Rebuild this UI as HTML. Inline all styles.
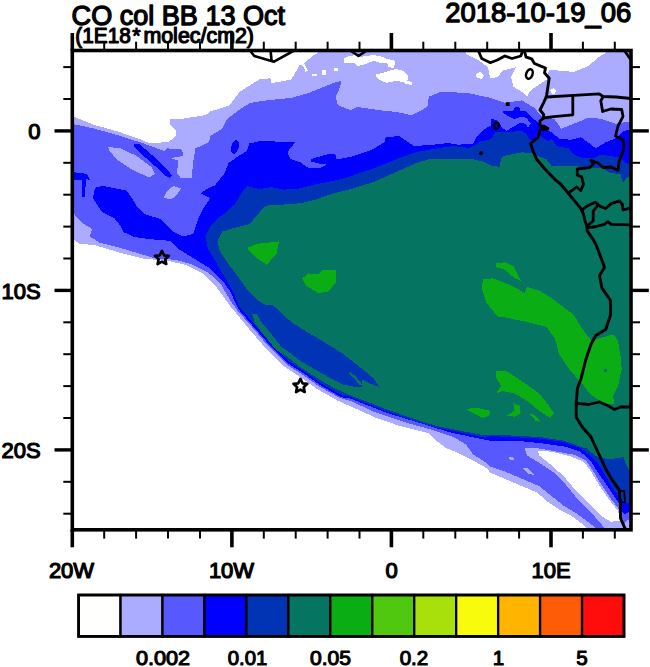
<!DOCTYPE html>
<html><head><meta charset="utf-8"><title>CO col BB 13 Oct</title>
<style>
html,body{margin:0;padding:0;background:#fff;}
body{width:650px;height:667px;overflow:hidden;font-family:"Liberation Sans",sans-serif;}
svg{display:block;}
text{font-family:"Liberation Sans",sans-serif;fill:#000;}
</style></head><body>
<svg width="650" height="667" viewBox="0 0 650 667">
<rect x="0" y="0" width="650" height="667" fill="#ffffff"/>
<defs><clipPath id="mapclip"><rect x="72.3" y="50.5" width="558.7" height="479.3"/></clipPath></defs>
<g clip-path="url(#mapclip)">
<g shape-rendering="crispEdges">
<polygon points="72.0,116.0 74.4,116.9 94.6,125.0 116.8,131.2 141.4,139.8 148.8,143.0 168.5,142.2 175.8,136.0 175.8,130.0 169.7,123.8 169.7,118.8 178.3,119.3 205.4,115.2 210.3,111.5 229.7,105.3 239.5,91.8 259.2,79.5 270.3,78.2 271.5,83.2 291.2,79.5 297.0,70.0 300.0,64.5 303.0,66.0 305.5,71.5 308.0,71.0 304.0,63.0 308.5,59.5 313.4,55.0 318.0,53.2 320.0,48.0 640.0,48.0 640.0,540.0 586.0,540.0 586.0,528.0 581.0,523.0 571.2,515.7 559.0,509.5 546.6,501.0 536.8,492.3 522.0,486.2 504.8,478.8 490.0,472.6 487.8,469.0 473.0,460.3 458.3,453.0 446.0,448.0 436.2,440.6 428.8,433.2 399.2,425.8 374.6,417.2 357.7,409.5 338.0,400.8 318.3,389.8 301.0,377.5 283.8,366.4 266.6,349.2 249.4,329.5 236.0,313.0 230.0,306.0 222.6,295.5 215.2,285.7 203.0,273.4 185.7,264.8 168.5,261.0 143.8,258.6 119.2,252.5 94.6,245.0 79.8,243.8 74.4,240.2 60.0,240.0 60.0,116.0" fill="#ababff"/>
<polygon points="343.4,58.8 349.0,56.2 355.4,55.2 361.0,57.0 367.0,55.8 373.8,55.2 381.0,56.5 386.8,58.8 395.0,60.7 394.2,68.0 388.6,67.2 387.0,63.0 381.2,63.5 373.8,60.7 364.6,64.4 357.2,66.2 354.5,62.5 344.3,63.5" fill="#ffffff"/>
<polygon points="375.7,74.5 383.0,72.7 388.6,70.8 396.0,69.0 403.4,70.8 408.0,75.5 407.5,80.5 412.6,83.0 412.0,85.0 406.0,84.0 403.4,82.0 396.0,81.0 386.8,82.8 379.4,80.0 376.6,77.3" fill="#ffffff"/>
<polygon points="312.0,73.5 316.5,73.5 316.5,75.5 312.0,75.5" fill="#ffffff"/>
<polygon points="321.5,70.0 325.5,70.0 325.5,75.0 321.5,75.0" fill="#ffffff"/>
<polygon points="334.0,68.0 338.0,68.0 338.0,70.8 334.0,70.8" fill="#ffffff"/>
<polygon points="475.5,74.0 480.0,72.0 484.0,75.0 482.0,79.0 477.0,78.0" fill="#ffffff"/>
<polygon points="465.7,48.0 465.7,53.6 478.0,59.8 487.8,67.2 490.3,78.2 497.7,77.0 502.3,70.8 515.8,67.2 511.0,77.0 513.4,86.8 522.0,91.8 527.0,96.7 530.6,90.5 539.2,84.4 546.6,79.5 549.0,69.6 573.7,72.0 588.5,66.0 598.3,57.3 605.7,52.9 606.0,48.0" fill="#ffffff"/>
<polygon points="550.3,90.0 554.0,88.0 556.5,91.0 554.0,94.2 551.0,93.0" fill="#ffffff"/>
<polygon points="60.0,124.0 74.4,124.3 94.6,128.7 119.2,135.6 143.8,143.5 164.8,151.3 167.2,148.4 182.0,149.6 183.2,155.8 171.0,158.2 178.3,160.7 177.0,173.0 180.8,178.0 191.8,178.0 193.0,163.0 195.5,148.4 209.0,142.2 210.3,136.0 222.3,128.7 227.2,118.8 242.0,107.8 250.6,102.8 266.6,100.4 291.2,97.9 308.5,93.0 333.0,83.2 341.7,80.7 339.2,89.3 335.5,96.7 338.0,105.3 350.3,110.2 357.4,107.0 379.5,110.2 396.8,112.0 411.5,115.2 421.4,110.2 427.5,106.5 428.8,96.7 441.0,91.8 468.2,93.0 490.3,97.9 504.8,102.8 522.0,100.4 534.3,107.8 541.7,116.4 554.0,118.8 561.4,128.7 573.7,123.8 588.5,117.6 600.8,118.8 615.5,123.8 623.0,122.5 640.0,120.0 640.0,516.5 630.0,518.5 625.0,522.0 624.0,540.0 596.0,540.0 596.0,528.0 586.0,520.6 576.2,513.2 563.8,505.8 551.5,496.0 539.2,486.2 522.0,478.8 504.8,471.4 490.0,466.5 487.8,464.0 473.0,454.2 465.7,444.3 453.4,437.0 431.2,429.5 411.5,424.2 374.6,412.0 350.0,400.8 340.0,398.0 320.0,387.0 303.0,375.0 286.0,364.0 269.0,347.0 252.0,327.0 237.0,310.0 230.0,300.0 220.2,283.2 207.8,272.2 193.0,264.8 175.8,259.8 156.2,258.6 143.8,255.0 119.2,247.5 99.5,242.6 89.7,236.5 92.2,229.0 82.3,223.0 74.4,214.3 60.0,214.0" fill="#5858ff"/>
<polygon points="108.2,147.2 119.2,147.9 136.5,155.8 151.2,166.8 155.0,174.2 148.8,177.4 131.5,169.3 116.8,159.5 109.4,150.8" fill="#ababff"/>
<polygon points="163.5,197.6 167.0,191.0 173.4,185.8 180.8,188.3 177.0,195.0 171.0,199.6" fill="#ababff"/>
<polygon points="524.5,448.0 539.2,448.5 573.7,454.6 586.0,460.3 593.4,471.4 600.8,483.7 610.6,498.5 619.2,509.5 623.0,520.6 624.2,540.0 604.5,540.0 604.5,528.0 598.3,520.6 587.2,508.3 575.0,496.0 565.0,483.7 554.0,472.6 539.2,462.8 527.0,455.4" fill="#ababff"/>
<polygon points="538.0,450.5 551.5,451.7 571.2,456.6 583.5,461.5 591.0,471.4 598.3,483.7 608.2,498.5 618.0,510.8 620.5,520.6 610.6,521.8 600.8,515.7 588.5,503.4 576.2,491.0 563.8,476.3 551.5,465.2 539.2,455.4" fill="#ffffff"/>
<polygon points="508.5,457.0 513.0,457.0 514.6,460.0 510.0,460.5" fill="#ababff"/>
<polygon points="522.0,467.7 527.0,468.0 534.3,475.0 529.0,474.0" fill="#ababff"/>
<polygon points="93.0,198.5 94.0,191.0 96.2,187.0 103.0,186.0 116.2,188.5 127.0,190.8 133.0,200.0 137.7,207.7 143.8,213.8 161.0,219.2 173.4,231.5 183.2,236.5 193.0,234.0 198.0,219.2 204.2,207.0 210.3,198.3 200.5,193.4 207.8,188.5 215.0,185.3 224.8,173.0 228.5,163.2 237.0,157.0 247.0,150.8 249.4,143.5 263.0,140.5 283.8,142.2 295.4,142.3 290.0,148.5 287.7,153.0 290.8,159.2 300.8,162.3 305.4,166.2 310.8,168.5 320.8,167.7 327.0,164.6 320.8,163.8 310.8,161.5 310.8,159.2 320.8,156.2 329.2,153.8 335.4,154.6 336.2,159.2 339.2,159.2 353.0,156.2 372.2,149.6 384.5,142.2 385.7,137.3 399.2,136.0 414.0,146.0 433.7,144.7 448.5,143.0 458.3,144.7 473.0,143.5 476.9,136.2 483.1,130.0 490.8,125.4 491.5,119.2 496.9,120.0 501.5,126.9 506.2,130.8 520.0,123.1 526.2,123.8 527.7,127.7 530.8,123.8 526.2,117.7 521.5,116.9 513.8,119.2 503.1,113.1 502.3,110.8 512.3,111.5 515.4,106.9 519.2,106.9 520.0,110.8 526.2,111.5 532.3,117.7 538.5,123.1 543.0,127.5 551.5,132.4 559.0,138.5 571.2,139.8 581.0,137.3 589.7,143.5 595.8,148.4 605.7,142.2 615.5,138.5 623.0,131.2 640.0,127.5 640.0,509.5 630.0,511.5 624.5,514.5 622.5,512.0 618.0,502.0 608.0,487.0 598.0,472.5 590.0,460.0 580.0,451.5 564.5,446.5 539.2,443.0 514.6,440.6 490.0,440.6 483.0,439.4 465.7,435.7 448.5,432.0 423.8,424.2 387.0,413.0 350.0,398.4 341.5,397.3 321.8,386.3 304.5,374.0 287.3,362.9 270.1,345.7 252.9,326.0 238.1,308.7 230.0,291.0 222.6,280.8 210.3,268.5 198.0,261.0 178.3,248.8 170.0,240.8 150.0,239.2 134.6,237.0 123.8,232.3 120.8,226.2 114.6,218.5 102.3,212.3" fill="#0000ff"/>
<polygon points="60.0,172.3 73.8,172.3 87.0,173.8 90.0,180.0 85.8,179.0 85.2,197.0 82.0,197.0 81.5,180.0 79.0,179.5 73.8,180.5 60.0,180.5" fill="#0000ff"/>
<polygon points="134.2,144.4 139.4,144.4 148.5,152.0 159.2,161.3 167.0,169.0 172.0,175.6 170.0,178.0 165.4,175.6 159.0,169.4 150.0,161.7 140.8,153.2 134.4,147.2" fill="#0000ff"/>
<ellipse cx="235" cy="147" rx="3.6" ry="7" fill="#0000ff" transform="rotate(15 235 147)"/>
<polygon points="223.8,214.3 234.6,204.5 242.0,192.2 247.0,186.0 259.2,189.0 271.5,187.2 283.8,189.7 298.6,188.5 313.4,184.8 333.0,181.0 347.8,177.4 357.7,173.5 374.6,168.0 399.2,158.2 416.5,152.0 436.2,148.4 453.4,146.0 469.2,148.0 475.4,144.6 480.0,141.5 490.8,139.2 495.4,132.3 506.2,132.3 521.5,130.8 526.2,133.8 529.2,139.2 533.8,140.8 540.0,136.2 547.7,140.8 552.3,139.2 556.5,146.0 568.8,148.4 573.7,154.5 581.0,157.7 594.6,157.7 600.8,154.6 611.5,156.2 620.8,157.7 625.4,163.0 640.0,164.0 640.0,503.4 624.2,503.4 620.5,498.5 613.0,488.6 605.7,476.3 598.3,464.0 591.0,456.5 581.0,448.3 563.8,442.1 539.2,438.5 514.6,437.2 490.0,436.0 485.4,437.8 460.8,432.5 436.2,427.5 411.5,420.0 387.0,411.5 364.8,402.8 350.0,396.7 343.0,395.8 323.3,384.8 306.0,372.5 288.8,361.4 271.6,344.2 254.4,324.5 239.6,307.2 232.2,290.0 222.3,273.4 212.5,256.2 207.8,248.8 205.4,236.5 210.3,226.6 219.8,216.8" fill="#0034b4"/>
<polygon points="217.4,241.4 222.3,231.5 234.6,227.8 249.4,224.2 256.8,215.5 265.4,205.7 283.8,204.5 301.0,203.2 315.8,199.5 333.0,193.4 352.8,188.5 374.6,181.6 399.2,170.5 419.0,162.0 431.2,158.7 460.8,159.5 472.3,159.2 483.1,161.5 491.0,165.5 500.0,166.9 500.8,159.2 503.8,155.8 510.8,154.6 521.5,152.3 532.3,153.1 539.2,156.5 546.6,159.5 551.5,165.6 571.2,165.6 588.5,168.0 600.8,168.0 610.6,173.0 620.5,174.2 623.0,182.8 626.6,178.0 640.0,168.0 640.0,472.0 629.2,470.0 625.4,463.0 623.8,457.0 611.5,459.2 600.8,458.0 594.6,455.4 587.5,448.8 581.0,446.8 563.8,440.6 539.2,437.0 514.6,435.7 490.0,434.5 485.4,435.5 460.8,430.8 436.2,426.0 411.5,418.0 387.0,409.5 364.8,400.8 346.2,393.8 330.8,386.2 320.0,380.0 309.2,373.0 300.0,367.0 287.0,356.5 276.2,350.0 272.3,345.4 266.2,337.7 260.0,330.0 254.6,322.3 253.0,315.4 252.0,314.0 252.0,295.0 246.2,288.5 240.0,279.2 233.0,270.0 229.7,266.0 219.8,251.2" fill="#057460"/>
<polygon points="247.0,293.0 253.0,295.4 258.5,300.8 266.2,305.4 272.3,304.6 278.5,310.0 286.2,317.7 293.8,323.8 306.2,331.5 320.8,340.0 330.8,346.2 343.0,353.8 353.8,362.3 364.6,370.8 373.8,378.5 379.2,387.0 370.0,383.5 362.0,379.5 361.5,387.0 355.4,387.0 343.0,384.6 330.8,378.5 320.0,372.3 309.2,366.2 300.0,360.8 286.2,350.0 281.5,347.0 275.4,339.2 269.2,331.5 261.5,322.3 257.0,314.6 253.0,313.8 247.0,312.5" fill="#0034b4"/>
<polygon points="348.5,373.0 350.2,372.2 355.5,376.0 362.5,384.8 360.0,385.2 353.0,377.8" fill="#057460"/>
<polygon points="248.2,247.5 256.8,243.8 279.0,241.4 276.5,253.7 266.6,264.8 255.5,257.4 248.2,250.0" fill="#0aae14"/>
<polygon points="302.3,278.3 308.5,273.4 318.3,274.6 323.2,269.7 336.0,269.7 336.0,282.0 328.2,291.8 318.3,293.0 306.0,285.7" fill="#0aae14"/>
<polygon points="496.2,263.5 504.8,262.3 513.4,266.0 520.8,280.8 514.6,278.3 504.8,269.7 496.2,267.2" fill="#0aae14"/>
<polygon points="483.0,279.5 492.8,278.3 499.8,280.8 514.6,287.0 524.5,293.0 527.0,287.0 539.2,290.6 551.5,298.0 563.8,307.3 573.7,314.7 581.0,327.0 588.5,336.8 592.2,341.8 595.8,339.3 613.0,334.4 618.0,340.5 620.5,356.5 621.7,368.8 618.0,386.0 613.0,396.0 614.3,404.5 605.7,403.3 595.8,398.4 588.5,392.2 582.3,383.6 577.4,378.7 568.8,368.8 559.0,354.0 555.2,339.3 546.6,327.0 527.0,322.0 504.8,317.2 497.7,316.5 486.6,303.0 481.7,288.2" fill="#0aae14"/>
<polygon points="603.5,369.0 606.5,368.5 607.0,372.0 604.0,372.5" fill="#057460"/>
<polygon points="496.2,371.3 507.2,371.3 522.0,381.2 539.2,393.5 549.0,405.8 554.0,413.2 550.3,418.0 539.2,410.7 527.0,400.8 514.6,393.5 502.3,391.0 496.2,393.5 501.0,386.0 496.2,377.5" fill="#0aae14"/>
<polygon points="513.4,403.3 519.5,405.8 520.8,413.2 514.6,416.8 507.2,415.6 514.6,410.7" fill="#0aae14"/>
<polygon points="529.4,413.2 535.5,415.6 540.5,421.8 535.5,420.5" fill="#0aae14"/>
<polygon points="465.2,408.7 478.0,408.2 490.3,410.7 489.0,415.6 483.0,418.0 475.5,414.4" fill="#0aae14"/>
</g>
<polyline points="249.4,50.0 254.3,56.0 274.0,61.7 295.0,50.0" fill="none" stroke="#000" stroke-width="2.6" stroke-linejoin="round" stroke-linecap="round"/>
<polyline points="270.5,50.0 271.5,60.0" fill="none" stroke="#000" stroke-width="2.6" stroke-linejoin="round" stroke-linecap="round"/>
<polyline points="351.0,51.0 358.5,56.0 366.0,51.0" fill="none" stroke="#000" stroke-width="2.6" stroke-linejoin="round" stroke-linecap="round"/>
<polyline points="478.0,50.0 481.7,58.5 490.3,62.7 497.4,60.0 504.8,56.0 512.0,58.5 520.8,56.0 523.0,50.0" fill="none" stroke="#000" stroke-width="2.8" stroke-linejoin="round" stroke-linecap="round"/>
<polyline points="524.2,50.0 526.0,57.0 531.6,58.8 534.4,63.5 540.8,66.2 545.5,68.0 544.5,72.7 549.2,78.2 547.8,87.5 546.5,96.2 543.8,102.3 540.0,110.0 543.8,114.6 543.0,118.5 540.0,120.8 540.0,126.0 547.8,128.7 540.3,129.6 538.0,137.3 530.6,143.5 533.0,150.8 536.8,159.5 544.0,168.0 555.2,179.8 560.0,183.5 568.3,193.2 575.2,201.6 580.8,208.5 583.5,214.0 585.0,221.0 587.0,226.5 587.0,230.6 591.9,237.6 596.0,244.5 599.5,253.7 604.5,267.2 599.5,275.8 602.0,288.2 610.6,300.5 610.6,314.7 605.7,329.5 595.8,335.6 591.0,344.2 586.0,359.0 581.0,378.7 577.4,388.5 576.2,403.3 576.2,417.2 582.3,427.0 591.0,437.0 598.3,453.0 605.7,469.0 613.0,481.2 619.2,489.8 620.5,503.4 620.5,518.2 624.2,526.8 626.6,531.0" fill="none" stroke="#000" stroke-width="2.9" stroke-linejoin="round" stroke-linecap="round"/>
<polygon points="540.5,125.0 544.0,124.5 549.0,127.5 548.5,130.5 541.0,130.0" fill="#000"/>
<polyline points="547.0,97.0 573.8,95.4 599.2,93.8 603.0,96.5 616.0,97.0 632.0,98.6" fill="none" stroke="#000" stroke-width="2.8" stroke-linejoin="round" stroke-linecap="round"/>
<polyline points="572.8,95.5 572.8,114.8 553.8,116.6 543.5,118.0" fill="none" stroke="#000" stroke-width="2.8" stroke-linejoin="round" stroke-linecap="round"/>
<polyline points="603.0,97.0 600.8,100.8 602.6,111.5 610.6,109.0 621.7,109.5 623.0,116.4 618.0,126.2 615.5,136.0 623.0,139.8 624.0,145.4 623.0,152.0 619.2,160.7 618.0,170.5 611.2,167.0 603.2,167.5 598.3,163.2 591.0,160.2 593.2,164.2 589.8,167.6 577.3,169.0 577.3,175.2 581.5,176.6 583.5,184.2 580.8,190.5 576.6,187.0 568.3,193.2" fill="none" stroke="#000" stroke-width="2.8" stroke-linejoin="round" stroke-linecap="round"/>
<polyline points="582.2,209.9 587.7,205.7 595.3,202.2 600.2,206.4 605.7,208.5 611.2,203.6 619.6,200.9 622.3,204.3 623.0,209.9 626.5,209.2 632.0,206.5" fill="none" stroke="#000" stroke-width="2.8" stroke-linejoin="round" stroke-linecap="round"/>
<polyline points="598.0,205.0 593.2,211.2 593.2,221.0 589.0,224.4 587.5,226.0" fill="none" stroke="#000" stroke-width="2.8" stroke-linejoin="round" stroke-linecap="round"/>
<polyline points="587.0,227.9 596.0,226.5 604.3,224.4 607.8,221.6 611.2,224.4 632.0,225.0" fill="none" stroke="#000" stroke-width="2.8" stroke-linejoin="round" stroke-linecap="round"/>
<polyline points="576.2,403.3 588.5,404.5 599.5,402.0 608.2,405.8 614.3,409.5 620.5,407.0 632.0,407.0" fill="none" stroke="#000" stroke-width="2.8" stroke-linejoin="round" stroke-linecap="round"/>
<polyline points="620.5,491.0 624.2,491.0 625.0,502.2 620.5,502.2" fill="none" stroke="#000" stroke-width="1.8" stroke-linejoin="round" stroke-linecap="round"/>
<polyline points="624.0,50.0 631.0,60.0" fill="none" stroke="#000" stroke-width="2.8" stroke-linejoin="round" stroke-linecap="round"/>
<ellipse cx="529.4" cy="74" rx="3.1" ry="4.9" fill="none" stroke="#000" stroke-width="2.5" transform="rotate(20 529.4 74)"/>
<ellipse cx="496.4" cy="125.7" rx="2.4" ry="3.1" fill="none" stroke="#000" stroke-width="2.6" transform="rotate(25 496.4 125.7)"/>
<rect x="505.8" y="102.2" width="3.8" height="3.8" fill="#000"/>
<circle cx="481" cy="153.3" r="2" fill="#000"/>
</g>
<polygon points="161.9,250.8 164.0,255.3 168.8,255.8 165.2,259.2 166.2,264.0 161.9,261.6 157.6,264.0 158.6,259.2 155.0,255.8 159.8,255.3" fill="none" stroke="#000" stroke-width="2.7" stroke-linejoin="round"/>
<polygon points="300.4,378.8 302.5,383.3 307.3,383.8 303.7,387.2 304.7,392.0 300.4,389.6 296.1,392.0 297.1,387.2 293.5,383.8 298.3,383.3" fill="none" stroke="#000" stroke-width="2.7" stroke-linejoin="round"/>
<rect x="72.3" y="50.5" width="558.7" height="479.3" fill="none" stroke="#000" stroke-width="3.6"/>
<line x1="72.3" y1="529.8" x2="72.3" y2="547.3" stroke="#000" stroke-width="3.6"/>
<line x1="72.3" y1="50.5" x2="72.3" y2="33.0" stroke="#000" stroke-width="3.6"/>
<line x1="104.2" y1="529.8" x2="104.2" y2="538.6" stroke="#000" stroke-width="2.0"/>
<line x1="104.2" y1="50.5" x2="104.2" y2="41.7" stroke="#000" stroke-width="2.0"/>
<line x1="136.1" y1="529.8" x2="136.1" y2="538.6" stroke="#000" stroke-width="2.0"/>
<line x1="136.1" y1="50.5" x2="136.1" y2="41.7" stroke="#000" stroke-width="2.0"/>
<line x1="168.0" y1="529.8" x2="168.0" y2="538.6" stroke="#000" stroke-width="2.0"/>
<line x1="168.0" y1="50.5" x2="168.0" y2="41.7" stroke="#000" stroke-width="2.0"/>
<line x1="200.0" y1="529.8" x2="200.0" y2="538.6" stroke="#000" stroke-width="2.0"/>
<line x1="200.0" y1="50.5" x2="200.0" y2="41.7" stroke="#000" stroke-width="2.0"/>
<line x1="231.9" y1="529.8" x2="231.9" y2="547.3" stroke="#000" stroke-width="3.6"/>
<line x1="231.9" y1="50.5" x2="231.9" y2="33.0" stroke="#000" stroke-width="3.6"/>
<line x1="263.8" y1="529.8" x2="263.8" y2="538.6" stroke="#000" stroke-width="2.0"/>
<line x1="263.8" y1="50.5" x2="263.8" y2="41.7" stroke="#000" stroke-width="2.0"/>
<line x1="295.7" y1="529.8" x2="295.7" y2="538.6" stroke="#000" stroke-width="2.0"/>
<line x1="295.7" y1="50.5" x2="295.7" y2="41.7" stroke="#000" stroke-width="2.0"/>
<line x1="327.6" y1="529.8" x2="327.6" y2="538.6" stroke="#000" stroke-width="2.0"/>
<line x1="327.6" y1="50.5" x2="327.6" y2="41.7" stroke="#000" stroke-width="2.0"/>
<line x1="359.5" y1="529.8" x2="359.5" y2="538.6" stroke="#000" stroke-width="2.0"/>
<line x1="359.5" y1="50.5" x2="359.5" y2="41.7" stroke="#000" stroke-width="2.0"/>
<line x1="391.4" y1="529.8" x2="391.4" y2="547.3" stroke="#000" stroke-width="3.6"/>
<line x1="391.4" y1="50.5" x2="391.4" y2="33.0" stroke="#000" stroke-width="3.6"/>
<line x1="423.3" y1="529.8" x2="423.3" y2="538.6" stroke="#000" stroke-width="2.0"/>
<line x1="423.3" y1="50.5" x2="423.3" y2="41.7" stroke="#000" stroke-width="2.0"/>
<line x1="455.3" y1="529.8" x2="455.3" y2="538.6" stroke="#000" stroke-width="2.0"/>
<line x1="455.3" y1="50.5" x2="455.3" y2="41.7" stroke="#000" stroke-width="2.0"/>
<line x1="487.2" y1="529.8" x2="487.2" y2="538.6" stroke="#000" stroke-width="2.0"/>
<line x1="487.2" y1="50.5" x2="487.2" y2="41.7" stroke="#000" stroke-width="2.0"/>
<line x1="519.1" y1="529.8" x2="519.1" y2="538.6" stroke="#000" stroke-width="2.0"/>
<line x1="519.1" y1="50.5" x2="519.1" y2="41.7" stroke="#000" stroke-width="2.0"/>
<line x1="551.0" y1="529.8" x2="551.0" y2="547.3" stroke="#000" stroke-width="3.6"/>
<line x1="551.0" y1="50.5" x2="551.0" y2="33.0" stroke="#000" stroke-width="3.6"/>
<line x1="582.9" y1="529.8" x2="582.9" y2="538.6" stroke="#000" stroke-width="2.0"/>
<line x1="582.9" y1="50.5" x2="582.9" y2="41.7" stroke="#000" stroke-width="2.0"/>
<line x1="614.8" y1="529.8" x2="614.8" y2="538.6" stroke="#000" stroke-width="2.0"/>
<line x1="614.8" y1="50.5" x2="614.8" y2="41.7" stroke="#000" stroke-width="2.0"/>
<line x1="72.3" y1="513.7" x2="63.3" y2="513.7" stroke="#000" stroke-width="2.0"/>
<line x1="631.0" y1="513.7" x2="640.0" y2="513.7" stroke="#000" stroke-width="2.0"/>
<line x1="72.3" y1="481.8" x2="63.3" y2="481.8" stroke="#000" stroke-width="2.0"/>
<line x1="631.0" y1="481.8" x2="640.0" y2="481.8" stroke="#000" stroke-width="2.0"/>
<line x1="72.3" y1="449.9" x2="54.5" y2="449.9" stroke="#000" stroke-width="3.4"/>
<line x1="631.0" y1="449.9" x2="648.8" y2="449.9" stroke="#000" stroke-width="3.4"/>
<line x1="72.3" y1="418.0" x2="63.3" y2="418.0" stroke="#000" stroke-width="2.0"/>
<line x1="631.0" y1="418.0" x2="640.0" y2="418.0" stroke="#000" stroke-width="2.0"/>
<line x1="72.3" y1="386.1" x2="63.3" y2="386.1" stroke="#000" stroke-width="2.0"/>
<line x1="631.0" y1="386.1" x2="640.0" y2="386.1" stroke="#000" stroke-width="2.0"/>
<line x1="72.3" y1="354.2" x2="63.3" y2="354.2" stroke="#000" stroke-width="2.0"/>
<line x1="631.0" y1="354.2" x2="640.0" y2="354.2" stroke="#000" stroke-width="2.0"/>
<line x1="72.3" y1="322.3" x2="63.3" y2="322.3" stroke="#000" stroke-width="2.0"/>
<line x1="631.0" y1="322.3" x2="640.0" y2="322.3" stroke="#000" stroke-width="2.0"/>
<line x1="72.3" y1="290.4" x2="54.5" y2="290.4" stroke="#000" stroke-width="3.4"/>
<line x1="631.0" y1="290.4" x2="648.8" y2="290.4" stroke="#000" stroke-width="3.4"/>
<line x1="72.3" y1="258.5" x2="63.3" y2="258.5" stroke="#000" stroke-width="2.0"/>
<line x1="631.0" y1="258.5" x2="640.0" y2="258.5" stroke="#000" stroke-width="2.0"/>
<line x1="72.3" y1="226.6" x2="63.3" y2="226.6" stroke="#000" stroke-width="2.0"/>
<line x1="631.0" y1="226.6" x2="640.0" y2="226.6" stroke="#000" stroke-width="2.0"/>
<line x1="72.3" y1="194.7" x2="63.3" y2="194.7" stroke="#000" stroke-width="2.0"/>
<line x1="631.0" y1="194.7" x2="640.0" y2="194.7" stroke="#000" stroke-width="2.0"/>
<line x1="72.3" y1="162.8" x2="63.3" y2="162.8" stroke="#000" stroke-width="2.0"/>
<line x1="631.0" y1="162.8" x2="640.0" y2="162.8" stroke="#000" stroke-width="2.0"/>
<line x1="72.3" y1="130.9" x2="54.5" y2="130.9" stroke="#000" stroke-width="3.4"/>
<line x1="631.0" y1="130.9" x2="648.8" y2="130.9" stroke="#000" stroke-width="3.4"/>
<line x1="72.3" y1="99.0" x2="63.3" y2="99.0" stroke="#000" stroke-width="2.0"/>
<line x1="631.0" y1="99.0" x2="640.0" y2="99.0" stroke="#000" stroke-width="2.0"/>
<line x1="72.3" y1="67.1" x2="63.3" y2="67.1" stroke="#000" stroke-width="2.0"/>
<line x1="631.0" y1="67.1" x2="640.0" y2="67.1" stroke="#000" stroke-width="2.0"/>
<text x="71.5" y="578.4" text-anchor="middle" font-size="22" stroke="#000" stroke-width="1.2" stroke-linejoin="round">20W</text>
<text x="231.5" y="578.4" text-anchor="middle" font-size="22" stroke="#000" stroke-width="1.2" stroke-linejoin="round">10W</text>
<text x="391.5" y="578.4" text-anchor="middle" font-size="22" stroke="#000" stroke-width="1.2" stroke-linejoin="round">0</text>
<text x="551.0" y="578.4" text-anchor="middle" font-size="22" stroke="#000" stroke-width="1.2" stroke-linejoin="round">10E</text>
<text x="40.6" y="138.8" text-anchor="end" font-size="22" stroke="#000" stroke-width="1.2" stroke-linejoin="round">0</text>
<text x="40.6" y="298.5" text-anchor="end" font-size="22" stroke="#000" stroke-width="1.2" stroke-linejoin="round">10S</text>
<text x="40.6" y="458.2" text-anchor="end" font-size="22" stroke="#000" stroke-width="1.2" stroke-linejoin="round">20S</text>
<text x="71.6" y="25.4" text-anchor="start" font-size="27" stroke="#000" stroke-width="1.3" stroke-linejoin="round" textLength="213.5" lengthAdjust="spacingAndGlyphs">CO col BB 13 Oct</text>
<text x="75.3" y="42.6" text-anchor="start" font-size="21.6" stroke="#000" stroke-width="1.2" stroke-linejoin="round" textLength="55.5" lengthAdjust="spacingAndGlyphs">(1E18</text>
<text x="132.2" y="42.8" text-anchor="start" font-size="21.6" stroke="#000" stroke-width="1.0" stroke-linejoin="round">*</text>
<text x="143.4" y="42.6" text-anchor="start" font-size="21.6" stroke="#000" stroke-width="1.2" stroke-linejoin="round" textLength="110.6" lengthAdjust="spacingAndGlyphs">molec/cm2)</text>
<text x="631.2" y="22.2" text-anchor="end" font-size="27" stroke="#000" stroke-width="1.3" stroke-linejoin="round" textLength="186" lengthAdjust="spacingAndGlyphs">2018-10-19_06</text>
<rect x="78.60" y="595.0" width="41.95" height="41.4" fill="#fffffe" stroke="#000" stroke-width="2.3"/>
<rect x="120.55" y="595.0" width="41.95" height="41.4" fill="#ababff" stroke="#000" stroke-width="2.3"/>
<rect x="162.51" y="595.0" width="41.95" height="41.4" fill="#5858ff" stroke="#000" stroke-width="2.3"/>
<rect x="204.46" y="595.0" width="41.95" height="41.4" fill="#0000ff" stroke="#000" stroke-width="2.3"/>
<rect x="246.42" y="595.0" width="41.95" height="41.4" fill="#0034b4" stroke="#000" stroke-width="2.3"/>
<rect x="288.37" y="595.0" width="41.95" height="41.4" fill="#057460" stroke="#000" stroke-width="2.3"/>
<rect x="330.32" y="595.0" width="41.95" height="41.4" fill="#0aae14" stroke="#000" stroke-width="2.3"/>
<rect x="372.28" y="595.0" width="41.95" height="41.4" fill="#50c810" stroke="#000" stroke-width="2.3"/>
<rect x="414.23" y="595.0" width="41.95" height="41.4" fill="#a8e00c" stroke="#000" stroke-width="2.3"/>
<rect x="456.18" y="595.0" width="41.95" height="41.4" fill="#f8fc0c" stroke="#000" stroke-width="2.3"/>
<rect x="498.14" y="595.0" width="41.95" height="41.4" fill="#ffb400" stroke="#000" stroke-width="2.3"/>
<rect x="540.09" y="595.0" width="41.95" height="41.4" fill="#ff5c08" stroke="#000" stroke-width="2.3"/>
<rect x="582.05" y="595.0" width="41.95" height="41.4" fill="#ff0c0c" stroke="#000" stroke-width="2.3"/>
<rect x="78.60" y="595.0" width="545.40" height="41.4" fill="none" stroke="#000" stroke-width="2.8"/>
<text x="163.0" y="665.2" text-anchor="middle" font-size="20.6" stroke="#000" stroke-width="1.1" stroke-linejoin="round" textLength="54.2" lengthAdjust="spacingAndGlyphs">0.002</text>
<text x="247.5" y="665.2" text-anchor="middle" font-size="20.6" stroke="#000" stroke-width="1.1" stroke-linejoin="round" textLength="39.6" lengthAdjust="spacingAndGlyphs">0.01</text>
<text x="330.5" y="665.2" text-anchor="middle" font-size="20.6" stroke="#000" stroke-width="1.1" stroke-linejoin="round" textLength="41" lengthAdjust="spacingAndGlyphs">0.05</text>
<text x="414.0" y="665.2" text-anchor="middle" font-size="20.6" stroke="#000" stroke-width="1.1" stroke-linejoin="round" textLength="28.6" lengthAdjust="spacingAndGlyphs">0.2</text>
<text x="498.6" y="665.2" text-anchor="middle" font-size="20.6" stroke="#000" stroke-width="1.1" stroke-linejoin="round">1</text>
<text x="582.0" y="665.2" text-anchor="middle" font-size="20.6" stroke="#000" stroke-width="1.1" stroke-linejoin="round">5</text>
</svg></body></html>
